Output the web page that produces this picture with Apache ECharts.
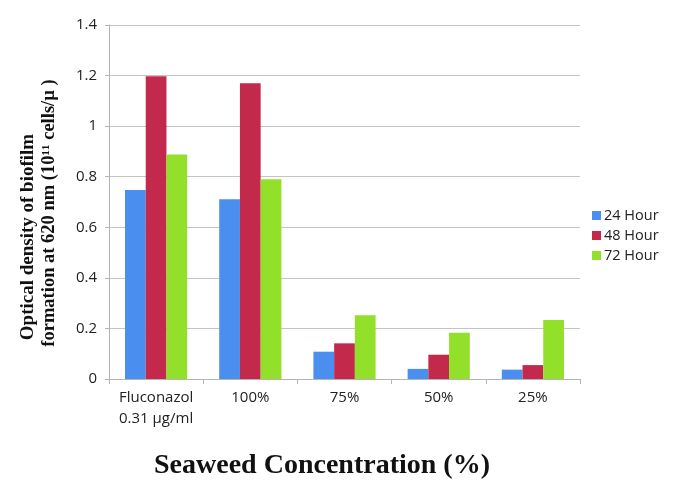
<!DOCTYPE html>
<html><head><meta charset="utf-8">
<script src="https://cdn.jsdelivr.net/npm/echarts@6/dist/echarts.min.js"></script>
<style>html,body{margin:0;padding:0;background:#fff}#c{width:677px;height:492px}</style>
</head><body><div id="c"></div>
<script>
const categories = ['Fluconazol\n0.31 µg/ml', '100%', '75%', '50%', '25%'];
const seriesNames = ['24 Hour', '48 Hour', '72 Hour'];
const hour24 = [0.747, 0.711, 0.108, 0.040, 0.037];
const hour48 = [1.197, 1.170, 0.141, 0.096, 0.055];
const hour72 = [0.888, 0.790, 0.252, 0.183, 0.233];
const yTicks = [0, 0.2, 0.4, 0.6, 0.8, 1, 1.2, 1.4];
const yTitle1 = 'Optical density of biofilm';
const yTitle2 = 'formation at 620 nm (10¹¹ cells/µ )';
const xTitle = 'Seaweed Concentration (%)';
const colors = ['#4a8ef0', '#c2294a', '#92e02a'];
const values = [hour24, hour48, hour72];

const chart = echarts.init(document.getElementById('c'), null, {renderer: 'canvas'});
const tickFont = '"Open Sans", "Liberation Sans", sans-serif';
const serif = '"Liberation Serif", "Times New Roman", serif';
chart.setOption({
  animation: false,
  color: colors,
  grid: {left: 109, right: 97, top: 25, bottom: 113, containLabel: false, outerBoundsMode: 'none'},
  legend: {
    orient: 'vertical', left: 587, top: 203,
    itemWidth: 9, itemHeight: 9, itemGap: 5,
    icon: 'rect',
    textStyle: {fontFamily: tickFont, fontSize: 14.5, color: '#222', padding: [0,0,0,-2]},
    data: seriesNames
  },
  graphic: [
    {type: 'text', x: 28, y: 237, rotation: Math.PI / 2,
      style: {text: yTitle1, font: 'bold 19px ' + serif, fill: '#111', align: 'center', verticalAlign: 'middle'}},
    {type: 'text', x: 49, y: 213, rotation: Math.PI / 2,
      style: {text: yTitle2, font: 'bold 18.5px ' + serif, fill: '#111', align: 'center', verticalAlign: 'middle'}},
    {type: 'text', x: 322, y: 466,
      style: {text: xTitle, font: 'bold 28px ' + serif, fill: '#111', align: 'center', verticalAlign: 'middle'}}
  ],
  xAxis: {
    type: 'category', data: categories,
    axisLine: {lineStyle: {color: '#b4b4b4'}},
    axisTick: {show: true, length: 5, lineStyle: {color: '#b4b4b4'}},
    axisLabel: {interval: 0, hideOverlap: false, fontFamily: tickFont, fontSize: 15, color: '#222', margin: 8, lineHeight: 21}
  },
  yAxis: {
    type: 'value', min: 0, max: 1.4, interval: 0.2,
    axisLine: {show: true, lineStyle: {color: '#b4b4b4'}},
    axisTick: {show: true, length: 4, lineStyle: {color: '#b4b4b4'}},
    splitLine: {lineStyle: {color: '#c4c4c4'}},
    axisLabel: {fontFamily: tickFont, fontSize: 15, color: '#222', margin: 12,
      formatter: v => { const t = yTicks.find(x => Math.abs(x - v) < 1e-9); return String(t !== undefined ? t : v); }}
  },
  series: seriesNames.map((n, i) => ({
    name: n, type: 'bar', data: values[i],
    barGap: '0%', barCategoryGap: '34%'
  }))
});
</script></body></html>
